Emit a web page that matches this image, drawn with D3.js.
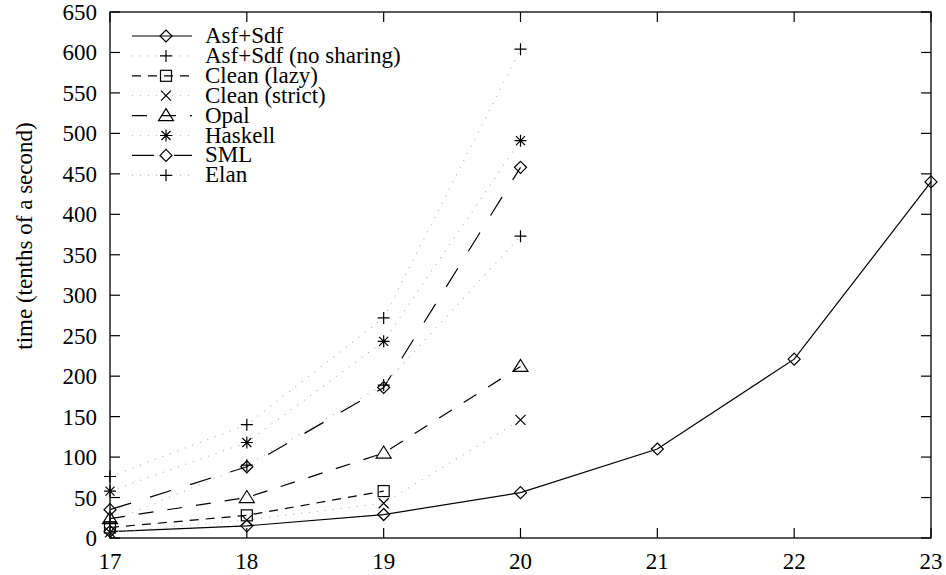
<!DOCTYPE html>
<html><head><meta charset="utf-8">
<script src="https://cdn.jsdelivr.net/npm/d3@7"></script>
<style>body{margin:0;background:#fff}svg{display:block}</style>
</head><body><svg id="c" width="946" height="575"></svg>
<script>
const xTicks = [17,18,19,20,21,22,23];
const yTicks = [0,50,100,150,200,250,300,350,400,450,500,550,600,650];
const seriesNames = ["Asf+Sdf","Asf+Sdf (no sharing)","Clean (lazy)","Clean (strict)","Opal","Haskell","SML","Elan"];
const asfSdf      = [[17,8],[18,15],[19,29],[20,56],[21,110],[22,221],[23,440]];
const asfNoShare  = [[17,76],[18,140],[19,272],[20,604]];
const cleanLazy   = [[17,13],[18,28],[19,58]];
const cleanStrict = [[17,7],[18,22],[19,43],[20,146]];
const opal        = [[17,24],[18,50],[19,105],[20,212]];
const haskell     = [[17,58],[18,118],[19,243],[20,491]];
const sml         = [[17,35],[18,88],[19,186],[20,458]];
const elan        = [[17,20],[18,90],[19,189],[20,373]];

const dotted = {stroke:"#b4b4b4", dash:"1 7"};
const styles = [
  {data:asfSdf, marker:"diamond", stroke:"#000", dash:null},
  {data:asfNoShare, marker:"plus", ...dotted},
  {data:cleanLazy, marker:"square", stroke:"#000", dash:"9 7"},
  {data:cleanStrict, marker:"cross", ...dotted},
  {data:opal, marker:"triangle", stroke:"#000", dash:"15 14"},
  {data:haskell, marker:"star", ...dotted},
  {data:sml, marker:"diamond", stroke:"#000", dash:"22 20"},
  {data:elan, marker:"plus", ...dotted},
];

const FONT = "Liberation Serif";
const FS = 23;
const svg = d3.select("#c");
const L=110, R=931, T=12, B=538;
const x = d3.scaleLinear().domain([17,23]).range([L,R]);
const y = d3.scaleLinear().domain([0,650]).range([B,T]);
function txt(sel){ return sel.append("text").style("font-family",FONT).style("font-size",FS+"px").attr("fill","#000"); }

svg.append("rect").attr("x",L).attr("y",T).attr("width",R-L).attr("height",B-T)
  .attr("fill","none").attr("stroke","#000").attr("stroke-width",1.3);

const g = svg.append("g");
yTicks.forEach(v=>{
  g.append("line").attr("x1",L).attr("x2",L+10).attr("y1",y(v)).attr("y2",y(v)).attr("stroke","#000").attr("stroke-width",1.2);
  g.append("line").attr("x1",R).attr("x2",R-10).attr("y1",y(v)).attr("y2",y(v)).attr("stroke","#000").attr("stroke-width",1.2);
  txt(g).attr("x",97).attr("y",y(v)+8).attr("text-anchor","end").text(v);
});
xTicks.forEach(v=>{
  g.append("line").attr("x1",x(v)).attr("x2",x(v)).attr("y1",B).attr("y2",B-10).attr("stroke","#000").attr("stroke-width",1.2);
  g.append("line").attr("x1",x(v)).attr("x2",x(v)).attr("y1",T).attr("y2",T+10).attr("stroke","#000").attr("stroke-width",1.2);
  txt(g).attr("x",x(v)).attr("y",569).attr("text-anchor","middle").text(v);
});
txt(svg).attr("transform","translate(32,236) rotate(-90)").attr("text-anchor","middle")
  .text("time (tenths of a second)");

function marker(sel, type, cx, cy){
  const s = sel.append("g").attr("transform",`translate(${cx},${cy})`)
    .attr("fill","none").attr("stroke","#000").attr("stroke-width",1.2);
  const h=6;
  if(type==="diamond") s.append("path").attr("d",`M0,${-h}L${h},0L0,${h}L${-h},0Z`);
  else if(type==="plus") s.append("path").attr("d",`M${-h},0H${h}M0,${-h}V${h}`);
  else if(type==="square") s.append("rect").attr("x",-5.5).attr("y",-5.5).attr("width",11).attr("height",11);
  else if(type==="cross") s.append("path").attr("d",`M-5,-5L5,5M-5,5L5,-5`);
  else if(type==="triangle") s.append("path").attr("d",`M0,-7L7.5,5H-7.5Z`);
  else if(type==="star") s.append("path").attr("d",`M${-h},0H${h}M0,${-h}V${h}M-4.5,-4.5L4.5,4.5M-4.5,4.5L4.5,-4.5`);
}

const line = d3.line().x(d=>x(d[0])).y(d=>y(d[1]));
styles.forEach((st,i)=>{
  const p = svg.append("path").datum(st.data).attr("d",line).attr("fill","none")
    .attr("stroke",st.stroke).attr("stroke-width",1.2);
  if(st.dash) p.attr("stroke-dasharray",st.dash);
  st.data.forEach(d=>marker(svg, st.marker, x(d[0]), y(d[1])));
  const ly = 36 + i*19.9;
  const lp = svg.append("line").attr("x1",132).attr("x2",192).attr("y1",ly).attr("y2",ly)
    .attr("stroke",st.stroke).attr("stroke-width",1.2);
  if(st.dash) lp.attr("stroke-dasharray",st.dash);
  marker(svg, st.marker, 166, ly);
  txt(svg).attr("x",205).attr("y",ly+7).text(seriesNames[i]);
});
</script></body></html>
